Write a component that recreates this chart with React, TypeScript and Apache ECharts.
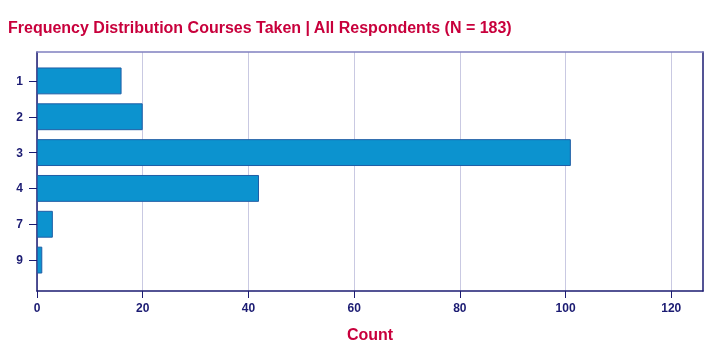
import React, { useEffect, useRef } from "react";
import * as echarts from "echarts";

const categories = ["1", "2", "3", "4", "7", "9"];
const counts = [16, 20, 101, 42, 3, 1];
const xTicks = [0, 20, 40, 60, 80, 100, 120];
const xMax = 126;

const NAVY = "#1b1b72";
const CRIMSON = "#C8003C";
const FONT = "'Liberation Sans', Arial, sans-serif";

export default function App() {
  const ref = useRef<HTMLDivElement>(null);
  useEffect(() => {
    if (!ref.current) return;
    const chart = echarts.init(ref.current, null, { renderer: "svg" });
    chart.setOption({
      animation: false,
      title: {
        text: "Frequency Distribution Courses Taken | All Respondents (N = 183)",
        left: 8,
        top: 19,
        padding: 0,
        textStyle: { color: CRIMSON, fontSize: 16, fontWeight: "bold", fontFamily: FONT },
      },
      grid: [
        { left: 37, right: 17, top: 52, bottom: 69, show: false },
        { left: 37, right: 17, top: 63, bottom: 82, show: false },
      ],
      xAxis: [
        {
          type: "value",
          gridIndex: 0,
          min: 0,
          max: xMax,
          name: "Count",
          nameLocation: "middle",
          nameGap: 35,
          nameTextStyle: { color: CRIMSON, fontSize: 16, fontWeight: "bold", fontFamily: FONT },
          axisLine: { show: true, onZero: false, lineStyle: { color: NAVY, width: 1.5 } },
          axisTick: { show: true, length: 7, lineStyle: { color: NAVY }, customValues: xTicks },
          axisLabel: { color: NAVY, fontSize: 12, fontWeight: "bold", fontFamily: FONT, margin: 11, customValues: xTicks },
          splitLine: { show: true, lineStyle: { color: "#c9c9e2", width: 1 } },
        },
        {
          type: "value",
          gridIndex: 0,
          position: "top",
          min: 0,
          max: xMax,
          axisLine: { show: true, onZero: false, lineStyle: { color: "#8080c0", width: 1.5 } },
          axisTick: { show: false },
          axisLabel: { show: false },
          splitLine: { show: false },
        },
        {
          type: "value",
          gridIndex: 1,
          min: 0,
          max: xMax,
          show: false,
        },
      ],
      yAxis: [
        {
          type: "value",
          gridIndex: 0,
          min: 0,
          max: 1,
          axisLine: { show: true, onZero: false, lineStyle: { color: NAVY, width: 1.5 } },
          axisTick: { show: false },
          axisLabel: { show: false },
          splitLine: { show: false },
        },
        {
          type: "value",
          gridIndex: 0,
          position: "right",
          min: 0,
          max: 1,
          axisLine: { show: true, onZero: false, lineStyle: { color: NAVY, width: 1.5 } },
          axisTick: { show: false },
          axisLabel: { show: false },
          splitLine: { show: false },
        },
        {
          type: "category",
          gridIndex: 1,
          data: categories,
          inverse: true,
          axisLine: { show: false, onZero: false },
          axisTick: { show: true, alignWithLabel: true, length: 8, lineStyle: { color: NAVY } },
          axisLabel: { color: NAVY, fontSize: 12, fontWeight: "bold", fontFamily: FONT, margin: 14 },
          splitLine: { show: false },
        },
      ],
      series: [
        {
          type: "bar",
          xAxisIndex: 2,
          yAxisIndex: 2,
          data: counts,
          barCategoryGap: "25%",
          itemStyle: { color: "#0c93cf", borderColor: "#1f5ea6", borderWidth: 1 },
        },
      ],
    });
    return () => chart.dispose();
  }, []);
  return (
    <div
      ref={ref}
      style={{ position: "fixed", left: 0, top: 0, width: 720, height: 360 }}
    />
  );
}
